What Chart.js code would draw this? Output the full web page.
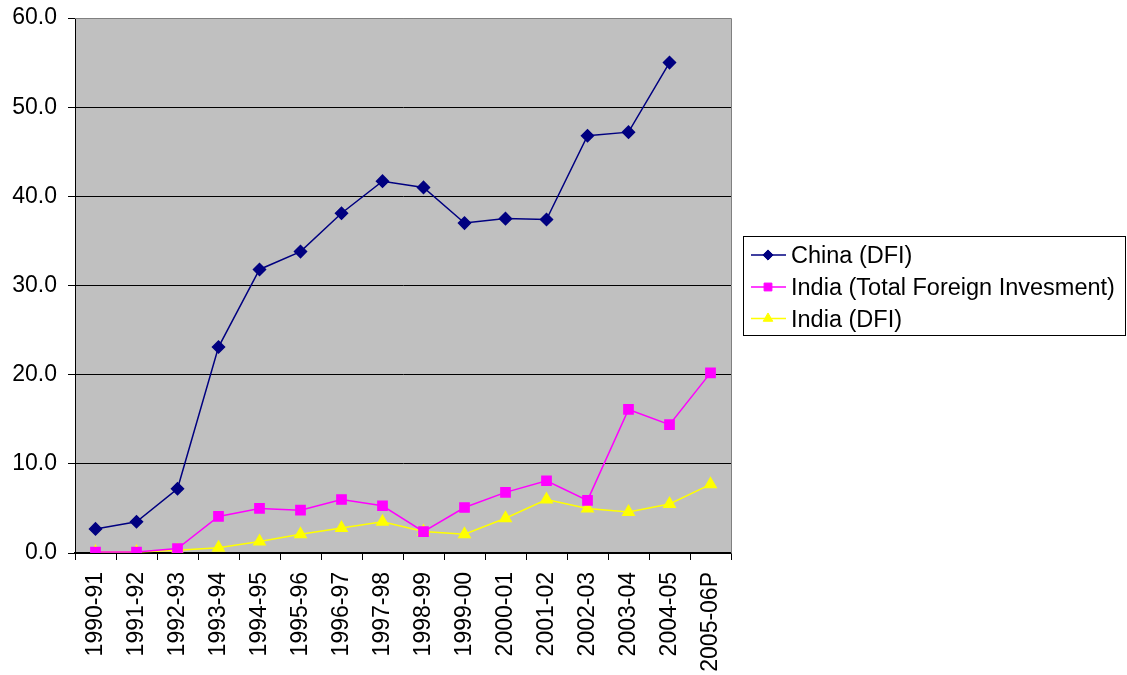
<!DOCTYPE html>
<html>
<head>
<meta charset="utf-8">
<script src="https://cdn.jsdelivr.net/npm/chart.js@4.4.1/dist/chart.umd.min.js"></script>
<style>
  html, body { margin: 0; padding: 0; background: #fff; }
  #wrap { width: 1127px; height: 675px; position: relative; }
</style>
</head>
<body>
<div id="wrap"><canvas id="c" width="1127" height="675"></canvas></div>
<script>
// Fiscal years on the category axis
const years = ['1990-91','1991-92','1992-93','1993-94','1994-95','1995-96','1996-97','1997-98',
               '1998-99','1999-00','2000-01','2001-02','2002-03','2003-04','2004-05','2005-06P'];

// Investment inflows (US$ billion)
const chinaDFI = [2.7, 3.5, 7.2, 23.1, 31.8, 33.8, 38.1, 41.7, 41.0, 37.0, 37.5, 37.4, 46.8, 47.2, 55.0, null];
const indiaTotal = [0.1, 0.1, 0.5, 4.1, 5.0, 4.8, 6.0, 5.3, 2.4, 5.1, 6.8, 8.1, 5.9, 16.1, 14.4, 20.2];
const indiaDFI = [0.1, 0.1, 0.3, 0.6, 1.3, 2.1, 2.8, 3.5, 2.4, 2.1, 3.9, 6.0, 5.0, 4.6, 5.5, 7.7];

const seriesNames = ['China (DFI)', 'India (Total Foreign Invesment)', 'India (DFI)'];

const FONT = '"Liberation Sans", Arial, sans-serif';
const FONT_SIZE = 23;

// Grey plot background, frame and a boxed legend on the right
const chartDecor = {
  id: 'chartDecor',
  beforeDraw(chart) {
    const { ctx, chartArea: a } = chart;
    ctx.save();
    ctx.fillStyle = '#C0C0C0';
    ctx.fillRect(a.left, a.top, a.right - a.left, a.bottom - a.top);
    ctx.restore();
  },
  afterDatasetsDraw(chart) {
    const { ctx, chartArea: a } = chart;
    ctx.save();
    ctx.strokeStyle = '#808080';
    ctx.lineWidth = 1;
    ctx.beginPath();
    ctx.moveTo(a.left, a.top + 0.5);
    ctx.lineTo(a.right + 0.5, a.top + 0.5);
    ctx.lineTo(a.right + 0.5, a.bottom);
    ctx.stroke();
    ctx.restore();
  },
  afterDraw(chart) {
    const { ctx } = chart;
    const box = { x: 743.5, y: 236.5, w: 382, h: 99 };
    ctx.save();
    ctx.fillStyle = '#fff';
    ctx.fillRect(box.x, box.y, box.w, box.h);
    ctx.strokeStyle = '#000';
    ctx.lineWidth = 1;
    ctx.strokeRect(box.x, box.y, box.w, box.h);
    ctx.font = '23.5px ' + FONT;
    ctx.textBaseline = 'alphabetic';
    const rows = [255, 287, 318.5];
    chart.data.datasets.forEach((ds, i) => {
      const y = rows[i];
      ctx.strokeStyle = ds.borderColor;
      ctx.lineWidth = ds.borderWidth;
      ctx.beginPath();
      ctx.moveTo(751, y);
      ctx.lineTo(786, y);
      ctx.stroke();
      ctx.fillStyle = ds.pointBackgroundColor;
      ctx.strokeStyle = ds.pointBorderColor;
      ctx.lineWidth = 1;
      Chart.helpers.drawPoint(ctx, { pointStyle: ds.pointStyle, radius: ds.pointRadius * 0.85, borderWidth: 1 }, 768, y);
      ctx.fillStyle = '#000';
      ctx.fillText(ds.label, 791, y + 8.4);
    });
    ctx.restore();
  }
};

new Chart(document.getElementById('c'), {
  type: 'line',
  data: {
    labels: years,
    datasets: [
      {
        label: seriesNames[0], data: chinaDFI,
        borderColor: '#000080', backgroundColor: '#000080', borderWidth: 1.5,
        pointStyle: 'rectRot', pointRadius: 6,
        pointBackgroundColor: '#000080', pointBorderColor: '#000080'
      },
      {
        label: seriesNames[1], data: indiaTotal,
        borderColor: '#FF00FF', backgroundColor: '#FF00FF', borderWidth: 1.5,
        pointStyle: 'rect', pointRadius: 6.5,
        pointBackgroundColor: '#FF00FF', pointBorderColor: '#FF00FF'
      },
      {
        label: seriesNames[2], data: indiaDFI,
        borderColor: '#FFFF00', backgroundColor: '#FFFF00', borderWidth: 1.5,
        pointStyle: 'triangle', pointRadius: 6.5,
        pointBackgroundColor: '#FFFF00', pointBorderColor: '#FFFF00'
      }
    ]
  },
  options: {
    responsive: false,
    animation: false,
    devicePixelRatio: 1,
    layout: { padding: { left: 0, right: 396, top: 18, bottom: 0 } },
    plugins: { legend: { display: false }, tooltip: { enabled: false } },
    elements: { line: { tension: 0 } },
    scales: {
      x: {
        offset: true,
        afterFit(s) { s.height = 122; },
        grid: { offset: true, drawOnChartArea: false, drawTicks: true, tickLength: 7, color: '#000', lineWidth: 1 },
        border: { color: '#000', width: 1.5 },
        ticks: { minRotation: 90, maxRotation: 90, autoSkip: false, padding: 12, color: '#000', font: { family: FONT, size: FONT_SIZE } }
      },
      y: {
        min: 0, max: 60,
        afterFit(s) { s.width = 75; },
        grid: {
          color: (c) => (c.tick && c.tick.value === 60 ? '#808080' : '#000'),
          tickColor: '#000', lineWidth: 1, tickLength: 7, drawTicks: true
        },
        border: { color: '#000', width: 1 },
        ticks: {
          stepSize: 10, padding: 11, color: '#000',
          font: { family: FONT, size: FONT_SIZE, lineHeight: 0.6 },
          callback: (v) => v.toFixed(1)
        }
      }
    }
  },
  plugins: [chartDecor]
});
</script>
</body>
</html>
